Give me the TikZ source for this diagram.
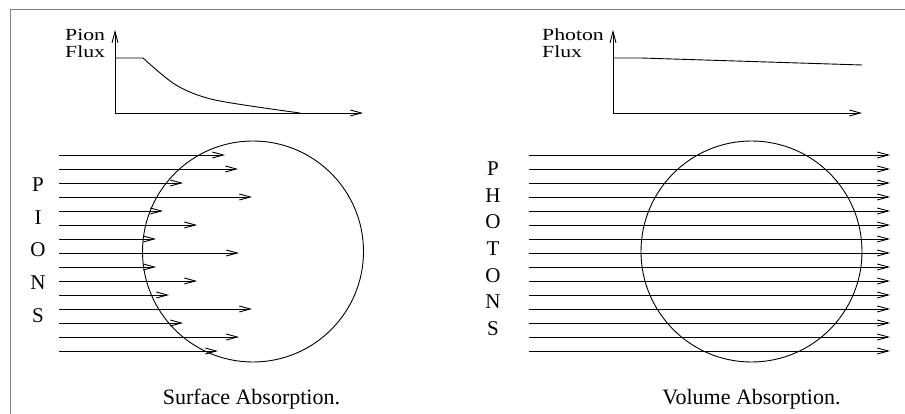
\documentclass[tikz,border=0pt]{standalone}
\usepackage{fontspec}
\usepackage{graphicx}
\setmainfont{Liberation Serif}
\usetikzlibrary{arrows.meta}
% axis labels are set slightly wide
\newcommand{\widelabel}[1]{\scalebox{1.28}[1]{#1}}
\begin{document}
\begin{tikzpicture}[x=1pt,y=-1pt,
  ray/.style={line width=0.9pt,-{Straight Barb[length=11pt,width=6pt]}},
  curve/.style={line width=0.9pt},
  lbl/.style={font=\fontsize{17}{20}\selectfont,inner sep=0pt,anchor=base west},
  caption/.style={font=\fontsize{22}{26}\selectfont,inner sep=0pt,anchor=base},
  letter/.style={font=\fontsize{21}{25}\selectfont,inner sep=0pt,anchor=base},
  frame/.style={draw=gray,line width=1.5pt},
  target/.style={draw,line width=0.9pt,circle,inner sep=0pt,minimum size=221pt}]
\useasboundingbox (0,0) rectangle (905,414);
\draw[frame] (10.5,414) -- (10.5,9.5) -- (905,9.5);

% ---------- left panel: pions ----------
\coordinate (po) at (115,113);
\coordinate (py) at (115,30);
\coordinate (px) at (363,113);
\draw[ray] (po) -- (py);
\draw[ray] (po) -- (px);
\node[lbl] (pionlbl) at (65,40.5) {\widelabel{Pion}};
\node[lbl] (pfluxlbl) at (65,57.5) {\widelabel{Flux}};
\draw[curve] (115,58) -- (143,58)
  plot[smooth,tension=0.5] coordinates {(143,58) (176,85) (215,100) (300,113)};

\node[target] (ptarget) at (253,251.5) {};
\foreach \k/\e in {0/225,1/238,2/183,3/252,4/163,5/197,6/156,7/239,
                   8/156,9/197,10/169,11/252,12/183,13/239,14/218}
  \draw[ray] (59,155+14*\k) -- (\e,155+14*\k);
\foreach \k/\c in {0/P,1/I,2/O,3/N,4/S}
  \node[letter] (pl\k) at (38,192+32.5*\k) {\c};
\node[caption] (pcap) at (251.5,404) {Surface Absorption.};

% ---------- right panel: photons ----------
\coordinate (go) at (613,113);
\coordinate (gy) at (613,30);
\coordinate (gx) at (862,113);
\draw[ray] (go) -- (gy);
\draw[ray] (go) -- (gx);
\node[lbl] (photonlbl) at (542,40.5) {\widelabel{Photon}};
\node[lbl] (gfluxlbl) at (542,57.5) {\widelabel{Flux}};
\draw[curve] (613,58) -- (641,58) -- (862,65);

\node[target] (gtarget) at (751.5,251.5) {};
\foreach \k in {0,...,14}
  \draw[ray] (529,155+14*\k) -- (890,155+14*\k);
\foreach \k/\c in {0/P,1/H,2/O,3/T,4/O,5/N,6/S}
  \node[letter] (gl\k) at (493,176+26.5*\k) {\c};
\node[caption] (gcap) at (751.5,404) {Volume Absorption.};
\end{tikzpicture}
\end{document}
